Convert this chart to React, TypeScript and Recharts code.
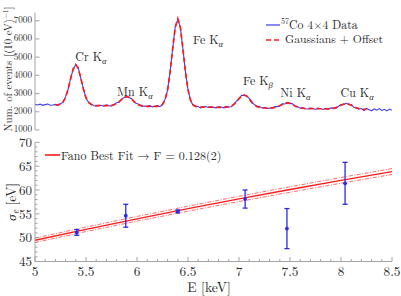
import React from 'react';
import { ComposedChart, Line, Scatter, XAxis, YAxis, ErrorBar, ReferenceDot } from 'recharts';

// ---------- top panel: spectrum ----------
const energy = [
  5, 5.025, 5.05, 5.075, 5.1, 5.125, 5.15, 5.175, 5.2, 5.225,
  5.25, 5.275, 5.3, 5.325, 5.35, 5.375, 5.4, 5.425, 5.45, 5.475,
  5.5, 5.525, 5.55, 5.575, 5.6, 5.625, 5.65, 5.675, 5.7, 5.725,
  5.75, 5.775, 5.8, 5.825, 5.85, 5.875, 5.9, 5.925, 5.95, 5.975,
  6, 6.025, 6.05, 6.075, 6.1, 6.125, 6.15, 6.175, 6.2, 6.225,
  6.25, 6.275, 6.3, 6.325, 6.35, 6.375, 6.4, 6.425, 6.45, 6.475,
  6.5, 6.525, 6.55, 6.575, 6.6, 6.625, 6.65, 6.675, 6.7, 6.725,
  6.75, 6.775, 6.8, 6.825, 6.85, 6.875, 6.9, 6.925, 6.95, 6.975,
  7, 7.025, 7.05, 7.075, 7.1, 7.125, 7.15, 7.175, 7.2, 7.225,
  7.25, 7.275, 7.3, 7.325, 7.35, 7.375, 7.4, 7.425, 7.45, 7.475,
  7.5, 7.525, 7.55, 7.575, 7.6, 7.625, 7.65, 7.675, 7.7, 7.725,
  7.75, 7.775, 7.8, 7.825, 7.85, 7.875, 7.9, 7.925, 7.95, 7.975,
  8, 8.025, 8.05, 8.075, 8.1, 8.125, 8.15, 8.175, 8.2, 8.225,
  8.25, 8.275, 8.3, 8.325, 8.35, 8.375, 8.4, 8.425, 8.45, 8.475, 8.5,
];

const counts = [
  2410, 2373, 2421, 2354, 2392, 2425, 2358, 2371, 2404, 2345,
  2439, 2512, 2832, 3235, 3858, 4336, 4593, 4397, 3810, 3258,
  2731, 2527, 2435, 2342, 2302, 2360, 2343, 2306, 2379, 2329,
  2327, 2401, 2493, 2523, 2693, 2783, 2853, 2764, 2705, 2501,
  2452, 2386, 2298, 2316, 2287, 2340, 2273, 2306, 2335, 2281,
  2396, 2680, 3189, 4237, 5474, 6667, 7073, 6648, 5446, 4200,
  3233, 2620, 2352, 2303, 2293, 2215, 2263, 2291, 2234, 2267,
  2240, 2213, 2276, 2264, 2217, 2295, 2264, 2276, 2418, 2578,
  2710, 2905, 2896, 2871, 2737, 2496, 2407, 2276, 2285, 2212,
  2240, 2183, 2211, 2182, 2281, 2285, 2320, 2433, 2429, 2512,
  2460, 2435, 2293, 2274, 2196, 2233, 2168, 2151, 2204, 2177,
  2125, 2188, 2176, 2129, 2187, 2145, 2211, 2185, 2199, 2304,
  2397, 2383, 2466, 2409, 2399, 2252, 2218, 2150, 2177, 2072,
  2180, 2113, 2056, 2164, 2092, 2175, 2073, 2136, 2049, 2147, 2085,
];

const fitCounts = [
  null, null, null, null, null, null, null, null, 2374, 2385,
  2424, 2537, 2792, 3245, 3838, 4371, 4588, 4367, 3830, 3233,
  2776, 2517, 2400, 2357, 2342, 2340, 2338, 2336, 2334, 2339,
  2352, 2386, 2453, 2558, 2683, 2788, 2828, 2784, 2675, 2546,
  2437, 2366, 2328, 2311, 2302, 2300, 2298, 2296, 2300, 2321,
  2406, 2655, 3209, 4192, 5479, 6637, 7108, 6633, 5471, 4180,
  3193, 2635, 2382, 2293, 2268, 2260, 2258, 2256, 2254, 2252,
  2250, 2248, 2246, 2244, 2242, 2250, 2269, 2316, 2408, 2553,
  2725, 2870, 2926, 2866, 2717, 2541, 2392, 2296, 2245, 2222,
  2210, 2208, 2206, 2217, 2236, 2275, 2335, 2408, 2469, 2492,
  2465, 2400, 2323, 2259, 2216, 2193, 2178, 2176, 2174, 2172,
  2170, 2168, 2166, 2164, 2162, 2160, 2171, 2190, 2229, 2289,
  2362, 2423, 2446, 2419, 2354, 2277, 2213, 2170, 2147, 2132,
  2130, null, null, null, null, null, null, null, null, null, null,
];

const countTicks = [1000, 2000, 3000, 4000, 5000, 6000, 7000];

const energyTicks = [
  5, 5.1, 5.2, 5.3, 5.4, 5.5, 5.6, 5.7, 5.8, 5.9,
  6, 6.1, 6.2, 6.3, 6.4, 6.5, 6.6, 6.7, 6.8, 6.9,
  7, 7.1, 7.2, 7.3, 7.4, 7.5, 7.6, 7.7, 7.8, 7.9,
  8, 8.1, 8.2, 8.3, 8.4, 8.5,
];

const peakElements = ['Cr', 'Mn', 'Fe', 'Fe', 'Ni', 'Cu'];
const peakLines = ['α', 'α', 'α', 'β', 'α', 'α'];
const peakLabelE = [5.395, 5.805, 6.55, 7.04, 7.405, 7.995];
const peakLabelCounts = [4790, 2865, 5720, 3470, 2810, 2810];

// ---------- bottom panel: Fano fit ----------
const lineE = [5, 5.5, 6, 6.5, 7, 7.5, 8, 8.5];
const fanoFit = [49.45, 51.75, 53.96, 56.08, 58.13, 60.1, 62.02, 63.87];
const fanoUpper = [49.9, 52.22, 54.45, 56.6, 58.68, 60.67, 62.62, 64.49];
const fanoLower = [49.0, 51.28, 53.47, 55.56, 57.58, 59.53, 61.42, 63.25];

const measE = [5.41, 5.89, 6.4, 7.06, 7.47, 8.04];
const measSigma = [51.1, 54.6, 55.5, 58.1, 51.9, 61.4];
const measErr = [0.6, 2.4, 0.3, 1.9, 4.2, 4.4];

const sigmaTicks = [
  45, 46, 47, 48, 49, 50, 51, 52, 53, 54, 55, 56, 57, 58, 59,
  60, 61, 62, 63, 64, 65, 66, 67, 68, 69, 70,
];

// ---------- styling ----------
const FONT = "'Latin Modern Roman', 'Liberation Serif', serif";
const FRAME = '#a3a3a3';
const TXT = '#2a2a2a';
const BLUE = '#3b3bff';
const RED = '#ff1a1a';

const isMajor = (v: number, step: number) => {
  const r = v / step;
  return Math.abs(r - Math.round(r)) < 1e-6;
};

const fmt = (v: number) => (Math.round(v * 10) / 10).toString();

function makeTick(side: 'bottom' | 'top' | 'left' | 'right', step: number, showLabel: boolean, fontSize: number, gap: number, vShift = 0.33) {
  return (props: any) => {
    const { x, y, payload } = props;
    const v = payload.value as number;
    const major = isMajor(v, step);
    const len = major ? 4.5 : 2.5;
    let line;
    if (side === 'bottom') line = <line x1={x} y1={y} x2={x} y2={y - len} stroke={FRAME} strokeWidth={1} />;
    else if (side === 'top') line = <line x1={x} y1={y} x2={x} y2={y + len} stroke={FRAME} strokeWidth={1} />;
    else if (side === 'left') line = <line x1={x} y1={y} x2={x + len} y2={y} stroke={FRAME} strokeWidth={1} />;
    else line = <line x1={x} y1={y} x2={x - len} y2={y} stroke={FRAME} strokeWidth={1} />;
    let label = null;
    if (showLabel && major) {
      if (side === 'bottom') {
        label = (
          <text x={x} y={y + gap + fontSize * 0.66} textAnchor="middle" fontSize={fontSize} style={{ fontFamily: FONT }} fill={TXT}>
            {fmt(v)}
          </text>
        );
      } else if (side === 'left') {
        label = (
          <text x={x - gap} y={y + fontSize * vShift} textAnchor="end" fontSize={fontSize} style={{ fontFamily: FONT }} fill={TXT}>
            {fmt(v)}
          </text>
        );
      }
    }
    return (
      <g>
        {line}
        {label}
      </g>
    );
  };
}

export default function App() {
  const topData = energy.map((e, i) => ({ E: e, counts: counts[i], fit: fitCounts[i] }));
  const fanoData = lineE.map((e, i) => ({ E: e, fit: fanoFit[i], up: fanoUpper[i], lo: fanoLower[i] }));
  const measData = measE.map((e, i) => ({ E: e, sigma: measSigma[i], err: measErr[i] }));

  const axisLine = { stroke: FRAME, strokeWidth: 1 };
  const txt = { fontFamily: FONT };

  return (
    <div style={{ position: 'absolute', left: 0, top: 0, width: 401, height: 296, background: '#fff', overflow: 'hidden' }}>
      <div style={{ position: 'absolute', left: 0, top: 0 }}>
        <ComposedChart width={401} height={140} data={topData} margin={{ top: 12.5, right: 9, bottom: 10, left: 0 }}>
          <XAxis
            xAxisId="b"
            dataKey="E"
            type="number"
            domain={[5, 8.5]}
            allowDataOverflow
            ticks={energyTicks}
            interval={0}
            height={0}
            tickSize={0}
            tickMargin={0}
            axisLine={axisLine}
            tickLine={false}
            tick={makeTick('bottom', 0.5, false, 12, 0)}
          />
          <XAxis
            xAxisId="t"
            orientation="top"
            type="number"
            domain={[5, 8.5]}
            allowDataOverflow
            ticks={energyTicks}
            interval={0}
            height={0}
            tickSize={0}
            tickMargin={0}
            axisLine={axisLine}
            tickLine={false}
            tick={makeTick('top', 0.5, false, 12, 0)}
          />
          <YAxis
            yAxisId="l"
            type="number"
            domain={[1000, 7450]}
            allowDataOverflow
            ticks={countTicks}
            interval={0}
            width={35}
            tickSize={0}
            tickMargin={0}
            axisLine={axisLine}
            tickLine={false}
            tick={makeTick('left', 1000, true, 9.2, 3, 0.26)}
          />
          <YAxis
            yAxisId="r"
            orientation="right"
            type="number"
            domain={[1000, 7450]}
            allowDataOverflow
            ticks={countTicks}
            interval={0}
            width={0}
            tickSize={0}
            tickMargin={0}
            axisLine={axisLine}
            tickLine={false}
            tick={makeTick('right', 1000, false, 9, 3)}
          />
          <Line
            xAxisId="b"
            yAxisId="l"
            dataKey="counts"
            type="linear"
            stroke={BLUE}
            strokeWidth={1.1}
            dot={false}
            isAnimationActive={false}
          />
          <Line
            xAxisId="b"
            yAxisId="l"
            dataKey="fit"
            type="linear"
            stroke={RED}
            strokeWidth={1.7}
            strokeDasharray="5 3"
            dot={false}
            connectNulls={false}
            isAnimationActive={false}
          />
          {peakLabelE.map((e, i) => (
            <ReferenceDot
              key={i}
              xAxisId="b"
              yAxisId="l"
              x={e}
              y={peakLabelCounts[i]}
              r={1}
              ifOverflow="visible"
              shape={(p: any) => (
                <text x={p.cx} y={p.cy} fontSize={12} style={txt} fill={TXT}>
                  <tspan>{peakElements[i] + ' K'}</tspan>
                  <tspan fontSize={8.5} dy={2.6} fontStyle="italic">
                    {peakLines[i]}
                  </tspan>
                </text>
              )}
            />
          ))}
        </ComposedChart>
      </div>

      <div style={{ position: 'absolute', left: 0, top: 122 }}>
        <ComposedChart width={401} height={174} margin={{ top: 20.3, right: 9, bottom: 0, left: 0 }}>
          <XAxis
            xAxisId="b"
            dataKey="E"
            type="number"
            domain={[5, 8.5]}
            allowDataOverflow
            ticks={energyTicks}
            interval={0}
            height={34.5}
            tickSize={0}
            tickMargin={0}
            axisLine={axisLine}
            tickLine={false}
            tick={makeTick('bottom', 0.5, true, 13.3, 5.5)}
          />
          <XAxis
            xAxisId="t"
            orientation="top"
            type="number"
            domain={[5, 8.5]}
            allowDataOverflow
            ticks={energyTicks}
            interval={0}
            height={0}
            tickSize={0}
            tickMargin={0}
            axisLine={axisLine}
            tickLine={false}
            tick={makeTick('top', 0.5, false, 12, 0)}
          />
          <YAxis
            yAxisId="l"
            dataKey="sigma"
            type="number"
            domain={[45, 70]}
            allowDataOverflow
            ticks={sigmaTicks}
            interval={0}
            width={35}
            tickSize={0}
            tickMargin={0}
            axisLine={axisLine}
            tickLine={false}
            tick={makeTick('left', 5, true, 13, 3, 0.36)}
          />
          <YAxis
            yAxisId="r"
            orientation="right"
            type="number"
            domain={[45, 70]}
            allowDataOverflow
            ticks={sigmaTicks}
            interval={0}
            width={0}
            tickSize={0}
            tickMargin={0}
            axisLine={axisLine}
            tickLine={false}
            tick={makeTick('right', 5, false, 12, 0)}
          />
          <Line
            xAxisId="b"
            yAxisId="l"
            data={fanoData}
            dataKey="up"
            type="linear"
            stroke="#ff5a5a"
            strokeWidth={0.9}
            strokeDasharray="4 1.5 1 1.5"
            dot={false}
            isAnimationActive={false}
          />
          <Line
            xAxisId="b"
            yAxisId="l"
            data={fanoData}
            dataKey="lo"
            type="linear"
            stroke="#ff5a5a"
            strokeWidth={0.9}
            strokeDasharray="4 1.5 1 1.5"
            dot={false}
            isAnimationActive={false}
          />
          <Line
            xAxisId="b"
            yAxisId="l"
            data={fanoData}
            dataKey="fit"
            type="linear"
            stroke={RED}
            strokeWidth={1.3}
            dot={false}
            isAnimationActive={false}
          />
          <Scatter
            xAxisId="b"
            yAxisId="l"
            data={measData}
            dataKey="sigma"
            fill="#2a2ae6"
            isAnimationActive={false}
            shape={(p: any) => <circle cx={p.cx} cy={p.cy} r={1.9} fill="#2a2ae6" />}
          >
            <ErrorBar dataKey="err" direction="y" width={2.5} stroke="#2a2ae6" strokeWidth={1.3} isAnimationActive={false} />
          </Scatter>
        </ComposedChart>
      </div>

      <svg width={401} height={296} style={{ position: 'absolute', left: 0, top: 0, pointerEvents: 'none' }}>
        {/* top legend */}
        <line x1={266} y1={25} x2={280} y2={25} stroke={BLUE} strokeWidth={1.2} />
        <text x={281} y={28.5} fontSize={11.8} style={txt} fill={TXT}>
          <tspan fontSize={8} dy={-4.5}>57</tspan>
          <tspan dy={4.5}>Co 4×4 Data</tspan>
        </text>
        <line x1={266} y1={40} x2={282} y2={40} stroke={RED} strokeWidth={1.7} strokeDasharray="5 3" />
        <text x={285} y={43} fontSize={11.7} style={txt} fill={TXT}>
          Gaussians + Offset
        </text>

        {/* bottom legend */}
        <line x1={45} y1={155} x2={60} y2={155} stroke={RED} strokeWidth={1.6} />
        <text x={61} y={159.5} fontSize={12} style={txt} fill={TXT}>
          Fano Best Fit → F = 0.128(2)
        </text>

        {/* axis titles */}
        <text transform="translate(11.5,69) rotate(-90)" textAnchor="middle" fontSize={10.8} style={txt} fill={TXT}>
          Num. of events [(10 eV)
          <tspan fontSize={7.5} dy={-3.3}>−1</tspan>
          <tspan dy={3.3}>]</tspan>
        </text>
        <text transform="translate(16,202) rotate(-90)" textAnchor="middle" fontSize={13.5} style={txt} fill={TXT}>
          <tspan fontStyle="italic">σ</tspan>
          <tspan fontSize={9.5} dy={3} fontStyle="italic">e</tspan>
          <tspan dy={-3}> [eV]</tspan>
        </text>
        <text x={209} y={291.5} textAnchor="middle" fontSize={13.7} style={txt} fill={TXT}>
          E [keV]
        </text>
      </svg>
    </div>
  );
}
